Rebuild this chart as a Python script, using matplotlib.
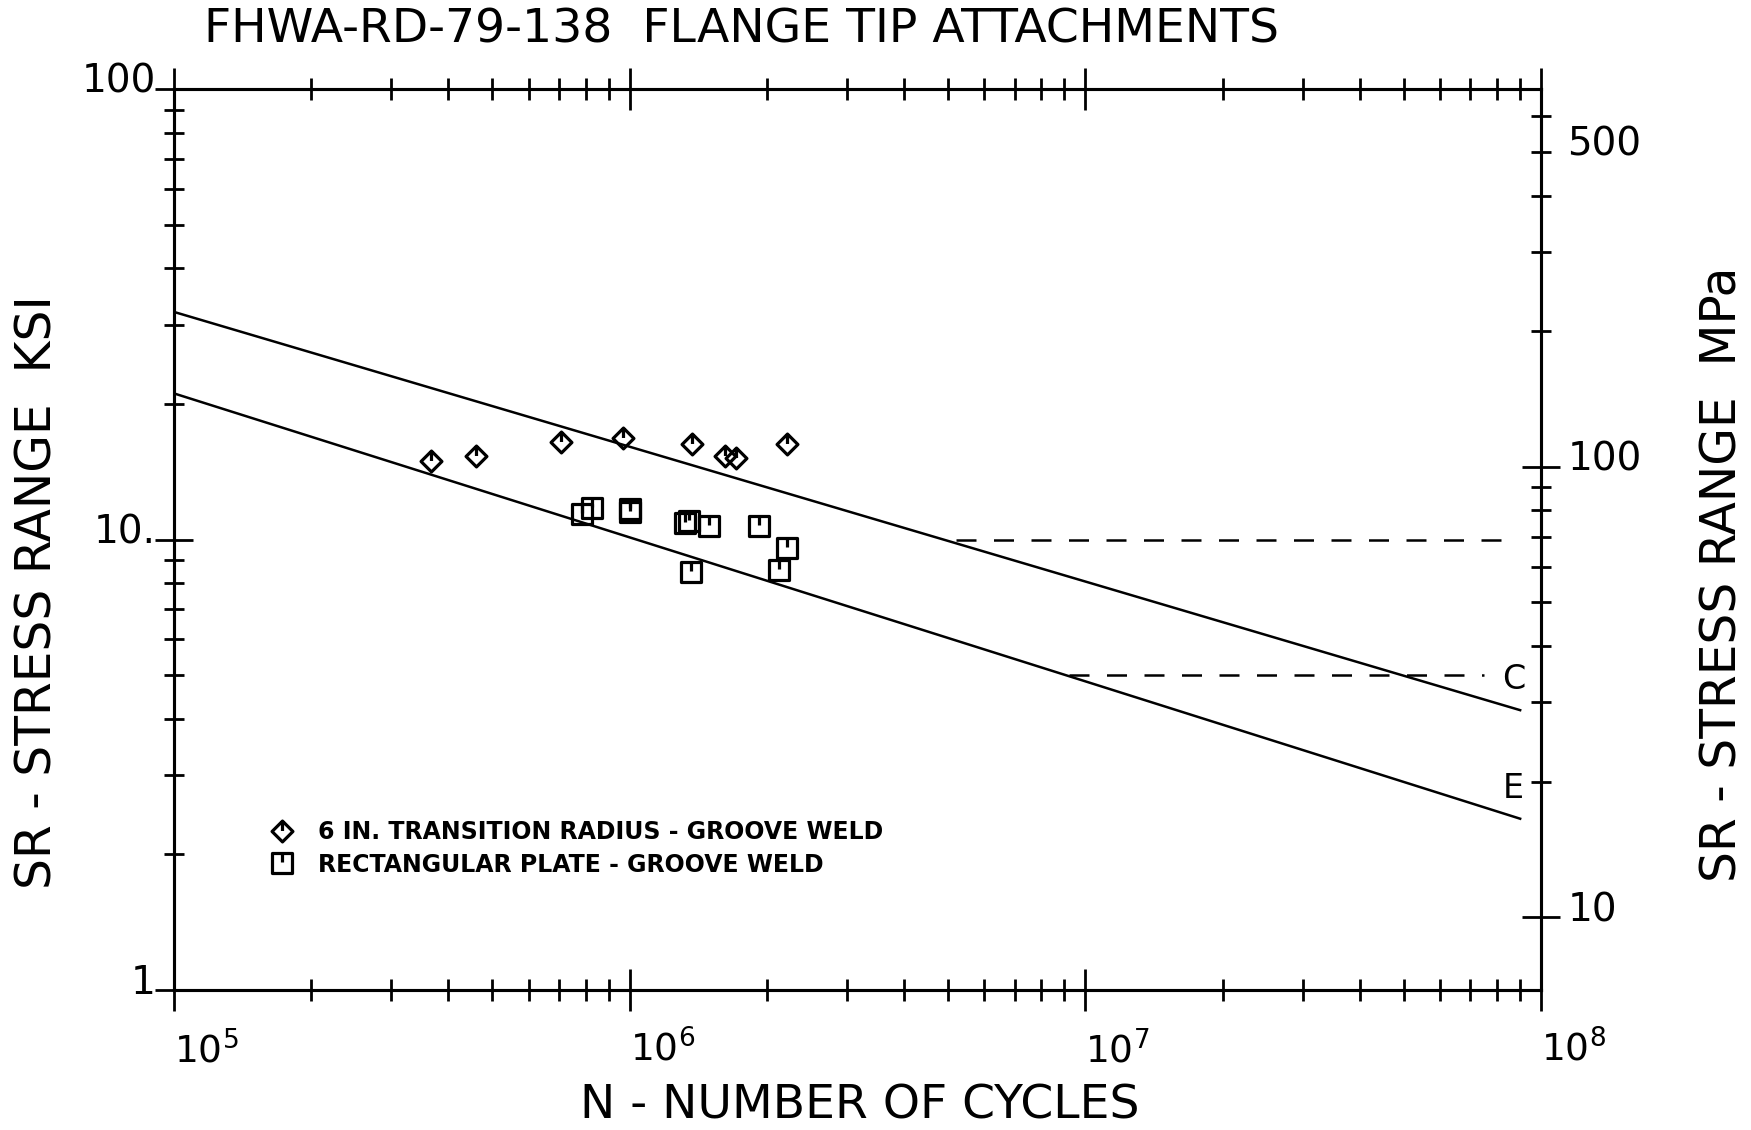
import math
import matplotlib
matplotlib.use('Agg')
import matplotlib.pyplot as plt
from matplotlib.path import Path
from matplotlib.lines import Line2D
from matplotlib.ticker import FixedLocator, FuncFormatter, NullFormatter
from matplotlib.transforms import ScaledTranslation

plt.rcParams['font.family'] = ['DejaVu Sans']

# fatigue data (N cycles, stress range ksi)
diamond_n = [3.66e5, 4.59e5, 7.08e5, 9.68e5, 1.37e6, 1.62e6, 1.71e6, 2.22e6]
diamond_s = [14.9, 15.3, 16.5, 16.8, 16.3, 15.3, 15.2, 16.3]
square_n = [7.85e5, 8.26e5, 1.0e6, 1.0e6, 1.32e6, 1.35e6, 1.49e6, 1.92e6, 2.21e6, 2.13e6, 1.36e6]
square_s = [11.4, 11.75, 11.5, 11.7, 10.9, 11.0, 10.7, 10.7, 9.56, 8.57, 8.45]

# design curves C and E with their cutoff levels
cat_c_n = [1e5, 9.0e7]
cat_c_s = [32.0, 4.18]
cat_e_n = [1e5, 9.0e7]
cat_e_s = [21.1, 2.40]
cut_c_n = [5.2e6, 8.2e7]
cut_c_s = [10.0, 10.0]
cut_e_n = [9.2e6, 7.5e7]
cut_e_s = [5.0, 5.0]

legend_labels = ['6 IN. TRANSITION RADIUS - GROOVE WELD', 'RECTANGULAR PLATE - GROOVE WELD']
ksi_ticks = [1, 10, 100]
ksi_labels = ['1', '10.', '100']
mpa_major = [10, 100]
mpa_minor = [20, 30, 40, 50, 60, 70, 80, 90, 200, 300, 400, 500, 600]
KSI_TO_MPA = 6.895

M, L, C = Path.MOVETO, Path.LINETO, Path.CLOSEPOLY
diamond = Path([(0, 1), (1, 0), (0, -1), (-1, 0), (0, 1), (0, 1), (0, 0.05)],
               [M, L, L, L, C, M, L])
square = Path([(-1, -1), (1, -1), (1, 1), (-1, 1), (-1, -1), (0, 1), (0, 0.05)],
              [M, L, L, L, C, M, L])
mk_d = dict(ls='none', marker=diamond, ms=15, mfc='none', mec='black', mew=2.3)
mk_s = dict(ls='none', marker=square, ms=15, mfc='none', mec='black', mew=2.3)

fig = plt.figure(figsize=(17.51, 11.30), dpi=100)
ax = fig.add_axes([174/1751, 1-990/1130, 1367/1751, 901/1130])
ax.set_xscale('log')
ax.set_yscale('log')
ax.set_xlim(1e5, 1e8)
ax.set_ylim(1, 100)

lw = 1.8
ax.plot(cat_c_n, cat_c_s, color='black', lw=lw)
ax.plot(cat_e_n, cat_e_s, color='black', lw=lw)
ax.plot(cut_c_n, cut_c_s, color='black', lw=lw, dashes=(8, 7))
ax.plot(cut_e_n, cut_e_s, color='black', lw=lw, dashes=(8, 7))
ax.text(8.7e7, 4.9, 'C', fontsize=24, ha='center', va='center')
ax.text(8.7e7, 2.8, 'E', fontsize=24, ha='center', va='center')

ax.plot(diamond_n, diamond_s, **mk_d)
ax.plot(square_n, square_s, **mk_s)

handles = [Line2D([], [], **mk_d), Line2D([], [], **mk_s)]
ax.legend(handles, legend_labels, loc='center left', bbox_to_anchor=(0.062, 0.157),
          frameon=False, borderpad=0, handlelength=1.0, handletextpad=1.0,
          labelspacing=0.35, prop={'weight': 'bold', 'size': 17})

for sp in ax.spines.values():
    sp.set_linewidth(2.2)

ax.xaxis.set_major_locator(FixedLocator([1e5, 1e6, 1e7, 1e8]))
ax.xaxis.set_minor_locator(FixedLocator([m * 10**e for e in (5, 6, 7) for m in range(2, 10)]))
ax.xaxis.set_major_formatter(FuncFormatter(lambda v, p: r'$10^{%d}$' % round(math.log10(v))))
ax.xaxis.set_minor_formatter(NullFormatter())
ax.yaxis.set_major_locator(FixedLocator(ksi_ticks))
ax.yaxis.set_minor_locator(FixedLocator([m * 10**e for e in (0, 1) for m in range(2, 10)]))
ax.yaxis.set_major_formatter(FuncFormatter(lambda v, p: ksi_labels[ksi_ticks.index(round(v))]))
ax.yaxis.set_minor_formatter(NullFormatter())

ax.tick_params(axis='x', which='major', direction='inout', length=30, width=2, top=True,
               labelsize=27, pad=14)
ax.tick_params(axis='x', which='minor', direction='inout', length=16, width=2, top=True)
ax.tick_params(axis='y', which='major', direction='inout', length=28, width=2, right=False,
               labelsize=28, pad=-1)
ax.tick_params(axis='y', which='minor', direction='inout', length=14, width=2, right=False)

ax2 = ax.twinx()
ax2.set_yscale('log')
ax2.set_ylim(1 * KSI_TO_MPA, 100 * KSI_TO_MPA)
ax2.yaxis.set_major_locator(FixedLocator(mpa_major))
ax2.yaxis.set_minor_locator(FixedLocator(mpa_minor))
ax2.yaxis.set_major_formatter(FuncFormatter(lambda v, p: '%d' % round(v)))
ax2.yaxis.set_minor_formatter(FuncFormatter(lambda v, p: '500' if round(v) == 500 else ''))
ax2.tick_params(axis='y', which='major', direction='inout', length=27, width=2,
                labelsize=28, pad=6)
ax2.tick_params(axis='y', which='minor', direction='inout', length=14, width=2,
                labelsize=28, pad=12)
for sp in ax2.spines.values():
    sp.set_linewidth(2.2)

ax.set_xlabel('N - NUMBER OF CYCLES', fontsize=34, va='center')
ax.xaxis.set_label_coords(0.502, -0.129)
ax.set_ylabel('SR - STRESS RANGE  KSI', fontsize=35, va='center')
ax.yaxis.set_label_coords(-0.1, 0.442)
ax2.set_ylabel('SR - STRESS RANGE  MPa', fontsize=35, rotation=90, va='center')
ax2.yaxis.set_label_coords(1.133, 0.461)

fig.text(204/1751, 1 - 30/1130, 'FHWA-RD-79-138  FLANGE TIP ATTACHMENTS',
         fontsize=34, ha='left', va='center')

# labels in the original sit a little above their ticks / right of x ticks
up = ScaledTranslation(0, 8/72, fig.dpi_scale_trans)
for t in ax.yaxis.get_major_ticks():
    t.label1.set_transform(t.label1.get_transform() + up)
for t in ax2.yaxis.get_major_ticks() + ax2.yaxis.get_minor_ticks():
    t.label2.set_transform(t.label2.get_transform() + up)
for t in ax.xaxis.get_major_ticks():
    t.label1.set_horizontalalignment('left')

fig.savefig('out.png', dpi=100)
